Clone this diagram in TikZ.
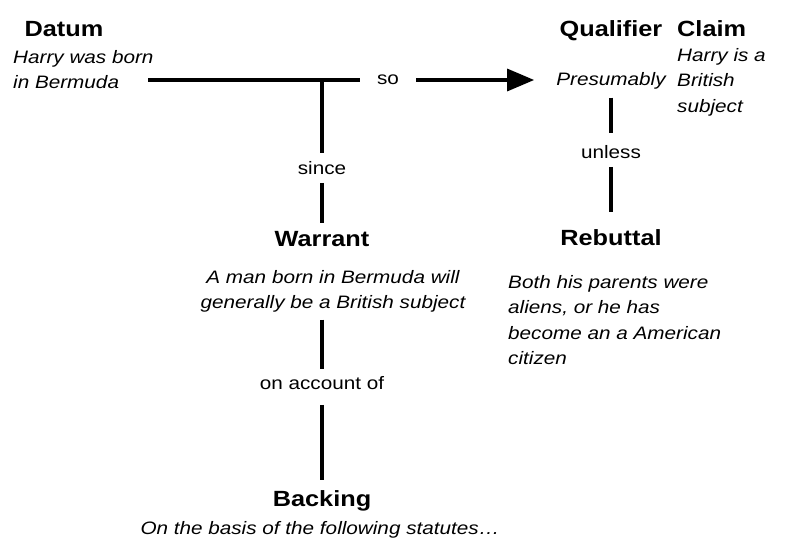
\documentclass[tikz,border=0pt]{standalone}
\usepackage{fontspec}
\setmainfont{Liberation Sans}[FakeStretch=1.15]
\usetikzlibrary{arrows.meta, positioning}

\begin{document}
\begin{tikzpicture}[x=1pt, y=-1pt]

  \def\lw{3.2pt}
  \def\colW{322}
  \def\colQ{611}

  % Styles
  \tikzset{
    part/.style={font=\fontsize{22}{26}\selectfont\bfseries, inner sep=0pt, anchor=base},
    say/.style={font=\fontsize{18}{25.5}\selectfont\itshape, inner sep=0pt, align=left},
    link/.style={font=\fontsize{18}{22}\selectfont, inner sep=8pt},
    bar/.style={line width=\lw, black},
    infer/.style={bar, -{Triangle[length=27pt, width=22pt]}},
  }

  \useasboundingbox (0,0) rectangle (809,543);

  % Datum and claim row
  \node[part] (datum) at (64,37) {Datum};
  \node[say, anchor=north west] (datumtxt) at (13,50) {Harry was born\\in Bermuda};

  \node[part] (qualifier) at (\colQ,37) {Qualifier};
  \node[say, anchor=center] (presum) at (\colQ,81) {Presumably};

  \node[part, anchor=base west] (claim) at (677,37) {Claim};
  \node[say, anchor=north west] (claimtxt) at (677,48) {Harry is a\\British\\subject};

  \coordinate (dstart) at (148,80);
  \coordinate (fork) at (\colW,80);
  \node[link, inner xsep=17pt] (so) at (388,80) {so};

  \draw[bar] (dstart) -- (so.west);
  \draw[infer, shorten >=22pt] (so.east) -- (so.east -| presum.west);

  % Warrant and backing
  \node[link] (since) at (\colW,168) {since};
  \node[part] (warrant) at (\colW,246) {Warrant};
  \node[say, align=center, anchor=north] (warrtxt) at (333,270)
    {A man born in Bermuda will\\generally be a British subject};
  \node[link, inner sep=7pt] (account) at (\colW,383) {on account of};
  \node[part] (backing) at (\colW,506) {Backing};
  \node[say, anchor=center] (backtxt) at (320,530)
    {On the basis of the following statutes\dots};

  \draw[bar] (fork) -- (since.north);
  \draw[bar, shorten >=8pt] (since.south) -- (warrant.north);
  \draw[bar, shorten <=7pt] (warrtxt.south -| account.north) -- (account.north);
  \draw[bar, shorten <=8pt, shorten >=10pt] (account.south) -- (backing.north);

  % Qualifier and rebuttal
  \node[link] (unless) at (\colQ,152) {unless};
  \node[part] (rebuttal) at (\colQ,245) {Rebuttal};
  \node[say, anchor=north west] (rebtxt) at (508,275)
    {Both his parents were\\aliens, or he has\\become an a American\\citizen};

  \draw[bar, shorten <=8pt, shorten >=4pt] (presum.south) -- (unless.north);
  \draw[bar, shorten >=17pt] (unless.south) -- (rebuttal.north);

\end{tikzpicture}
\end{document}
